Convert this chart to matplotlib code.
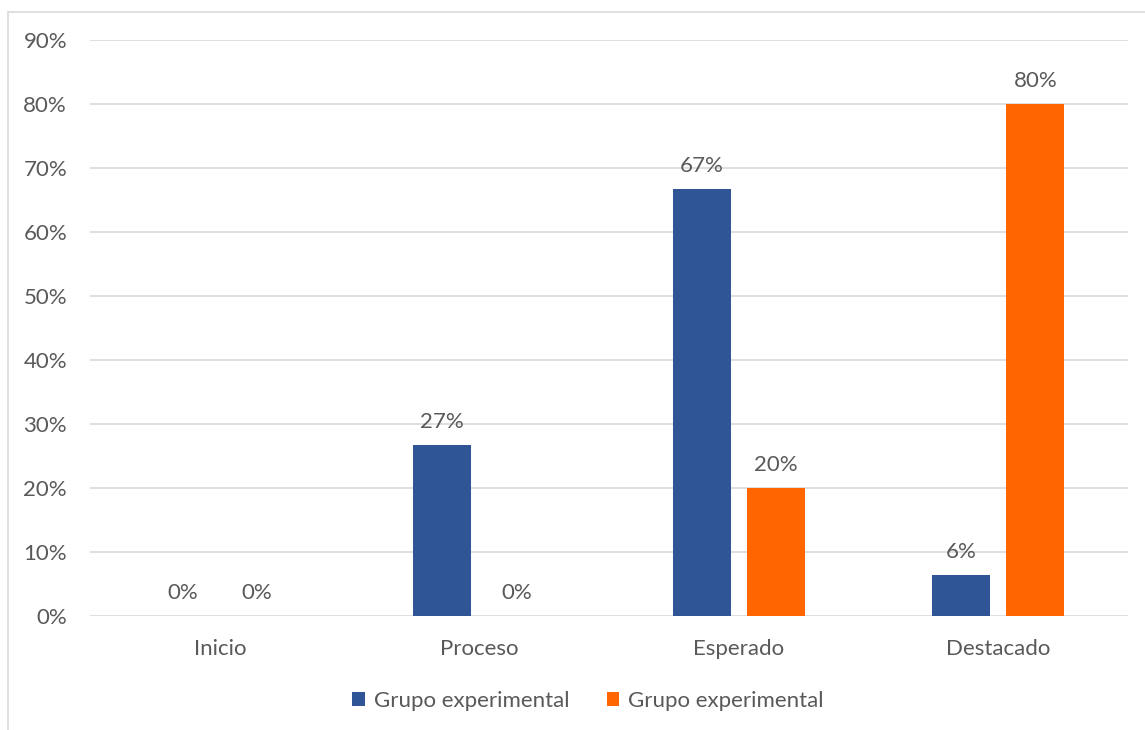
import numpy as np
import matplotlib.pyplot as plt
from matplotlib.patches import Rectangle
from matplotlib.ticker import PercentFormatter

# categories and series
niveles = ["Inicio", "Proceso", "Esperado", "Destacado"]
serie_a = [0.0, 0.2667, 0.6667, 0.064]
serie_b = [0.0, 0.0, 0.20, 0.80]
nombres = ["Grupo experimental", "Grupo experimental"]

azul = "#2F5597"
naranja = "#FF6600"
gris = "#595959"
fs = 16

plt.rcParams['font.family'] = ['Lato', 'DejaVu Sans']

fig = plt.figure(figsize=(11.45, 7.3), dpi=100)
ax = fig.add_axes([0.0786, 0.1562, 0.9066, 0.789])

# outer frame of the chart
fig.patches.append(Rectangle((8 / 1145, -0.1), 1.2, 1 - 12 / 730 + 0.1,
                             transform=fig.transFigure, fill=False,
                             edgecolor="#D9D9D9", linewidth=1.2))

x = np.arange(len(niveles))
ancho = 0.225
desp = 0.1426

b1 = ax.bar(x - desp, serie_a, ancho, color=azul, label=nombres[0], zorder=3)
b2 = ax.bar(x + desp, serie_b, ancho, color=naranja, label=nombres[1], zorder=3)

for barras in (b1, b2):
    for r in barras:
        h = r.get_height()
        ax.annotate("{:.0%}".format(h), (r.get_x() + r.get_width() / 2, h),
                    xytext=(0, 9.5), textcoords="offset points",
                    ha="center", va="bottom", fontsize=fs, color=gris)

ax.set_ylim(0, 0.9)
ax.set_xlim(-0.5, len(niveles) - 0.5)
ax.set_yticks(np.arange(0, 0.91, 0.1))
ax.yaxis.set_major_formatter(PercentFormatter(1.0, decimals=0))
ax.set_xticks(x)
ax.set_xticklabels(niveles)
ax.tick_params(axis="both", length=0, labelsize=fs, labelcolor=gris)
ax.tick_params(axis="x", pad=16.5)
ax.tick_params(axis="y", pad=16.5)
ax.grid(axis="y", color="#D9D9D9", linewidth=1.2, zorder=0)
for s in ax.spines.values():
    s.set_visible(False)

fig.legend(handles=[b1, b2], labels=nombres, loc="center",
           bbox_to_anchor=(0.5135, 0.040), ncol=2, frameon=False,
           fontsize=fs, labelcolor=gris, handlelength=0.55, handleheight=0.55,
           handletextpad=0.4, columnspacing=1.7)

fig.savefig("out.png", dpi=100)
